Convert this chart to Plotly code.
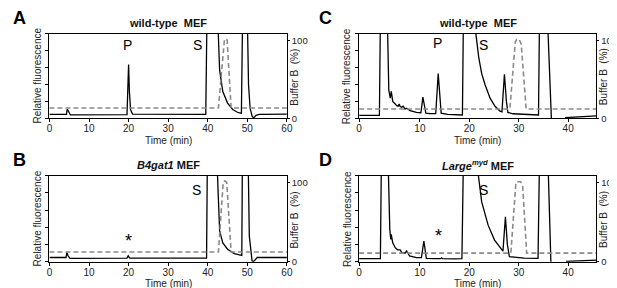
import plotly.graph_objects as go

W, H = 617, 288
FONT = "Liberation Sans, Arial, sans-serif"

# ---------------- data ----------------
# Panel A: wild-type MEF
time_A = [0, 4.3, 4.5, 4.8, 5.3, 19.6, 19.85, 20.0, 20.2, 20.5, 21.0, 39.5, 39.8, 42.5, 43.0,
          43.8, 45.0, 46.3, 47.5, 48.5, 48.8, 50.0, 50.3, 50.7, 51.2, 51.6, 52.2, 53.0, 60]
fluor_A = [0.23, 0.23, 0.55, 0.4, 0.2, 0.22, 1.5, 3.17, 1.6, 0.5, 0.25, 0.23, 6, 6, 2.84,
           1.58, 0.9, 0.52, 0.36, 0.29, 6, 6, 2.0, 0.6, 0.13, 0.03, 0.18, 0.23, 0.25]
bufT_A = [0, 42.7, 44.2, 44.5, 44.9, 45.9, 60]
bufB_A = [13.3, 13.3, 100, 102, 100, 13.3, 13.3]

# Panel B: B4gat1 MEF
time_B = [0, 4.2, 4.4, 4.7, 5.2, 19.6, 19.9, 20.3, 39.7, 39.9, 42.3, 43.0, 43.8, 45.0, 46.7,
          48.3, 48.6, 48.75, 50.2, 50.5, 50.9, 51.2, 51.6, 52.5, 60]
fluor_B = [0.25, 0.25, 0.55, 0.35, 0.2, 0.22, 0.35, 0.22, 0.22, 6, 6, 1.79, 1.1, 0.73, 0.48,
           0.37, 0.37, 6, 6, 1.5, 0.4, 0.05, 0.02, 0.25, 0.25]
bufT_B = [0, 42.7, 43.9, 44.3, 44.8, 45.9, 60]
bufB_B = [12.3, 12.3, 100, 102, 100, 12.3, 12.3]

# Panel C: wild-type MEF
time_C = [-2.3, 1.8, 2.0, 3.4, 3.7, 4.0, 4.2, 4.35, 4.5, 5.0, 5.3, 5.6, 5.8, 6.0, 6.3, 6.6,
          7.0, 7.3, 8.0, 9.3, 10.2, 10.6, 11.0, 11.2, 12.0, 13.2, 13.7, 14.0, 14.3, 15.6,
          18.2, 18.6, 18.8, 20.9, 21.9, 22.5, 23.2, 24.2, 25.2, 26.2, 26.6, 27.1, 27.5, 27.8,
          28.8, 32.2, 33.8, 34.0, 34.2, 35.8, 36.6, 37.0, 39.2, 39.5, 45.7]
fluor_C = [0.17, 0.17, 6, 6, 1.68, 1.19, 1.6, 1.05, 1.0, 0.85, 0.75, 0.72, 0.85, 0.7, 0.65, 0.72,
           0.55, 0.6, 0.45, 0.35, 0.33, 1.25, 0.5, 0.3, 0.28, 0.28, 2.64, 1.2, 0.3, 0.23,
           0.2, 0.2, 6, 6, 3.6, 2.64, 1.97, 1.19, 0.71, 0.42, 0.38, 2.6, 1.0, 0.35,
           0.27, 0.23, 0.2, 0.2, 6, 6, 0.0, -0.5, -0.5, 0.04, 0.15]
bufT_C = [-2.3, 28.2, 29.3, 29.6, 30.1, 30.5, 31.5, 45.7]
bufB_C = [12, 12, 98, 101, 101, 95, 12, 12]

# Panel D: Large(myd) MEF
time_D = [-2.3, 2.0, 2.2, 3.55, 3.9, 4.1, 4.2, 4.35, 4.5, 5.0, 5.5, 6.0, 6.3, 6.7, 7.0, 7.3,
          7.6, 7.9, 9.3, 10.3, 10.8, 11.1, 11.3, 13.0, 14.2, 14.4, 14.6, 17.0, 18.5, 18.8,
          21.4, 22.5, 23.8, 25.1, 26.5, 26.8, 27.3, 27.7, 28.1, 31.1, 33.9, 34.2, 35.9,
          36.5, 37.0, 39.5, 39.7, 45.7]
fluor_D = [0.18, 0.18, 6, 6, 1.88, 1.3, 1.59, 1.15, 1.1, 0.82, 0.7, 0.69, 0.55, 0.53, 0.5, 0.63,
           0.45, 0.34, 0.24, 0.24, 1.2, 0.4, 0.2, 0.18, 0.18, 0.23, 0.18, 0.17, 0.18, 6,
           6, 3.48, 2.13, 1.26, 0.68, 0.62, 2.61, 1.0, 0.3, 0.22, 0.2, 6, 6,
           0.0, -0.5, -0.5, 0.02, 0.1]
bufT_D = [-2.3, 28.4, 29.4, 29.6, 30.4, 30.8, 31.6, 45.7]
bufB_D = [11, 11, 98, 101, 101, 95, 11, 11]

xticks_long = [0, 10, 20, 30, 40, 50, 60]
xticks_short_vals = [-2.3, 10, 20, 30, 40]
xticks_short_text = ["0", "10", "20", "30", "40"]

titles = ["wild-type  MEF", "<i>B4gat1</i> MEF", "wild-type  MEF", "<i>Large<sup>myd</sup></i> MEF"]
letters = ["A", "B", "C", "D"]

# ---------------- layout helpers ----------------
def px_x(p):
    return p / W

def px_y(p):
    return 1 - p / H

# pixel boxes: (left, right, top, bottom)
boxes = [
    (39, 280, 26, 112.3),        # A
    (39, 280, 170.7, 258.3),     # B
    (353.3, 594, 26, 112.3),     # C
    (353.3, 594, 170.7, 258.3),  # D
]

panels = [
    (time_A, fluor_A, bufT_A, bufB_A, [0, 60], xticks_long, [str(v) for v in xticks_long]),
    (time_B, fluor_B, bufT_B, bufB_B, [0, 60], xticks_long, [str(v) for v in xticks_long]),
    (time_C, fluor_C, bufT_C, bufB_C, [-2.3, 45.7], xticks_short_vals, xticks_short_text),
    (time_D, fluor_D, bufT_D, bufB_D, [-2.3, 45.7], xticks_short_vals, xticks_short_text),
]

fig = go.Figure()
layout = dict(
    width=W, height=H, margin=dict(l=0, r=0, t=0, b=0),
    paper_bgcolor="white", plot_bgcolor="white", showlegend=False,
    font=dict(family=FONT, size=10, color="#222"),
)
annotations = []

for i, (t, f, bt, bb, xr, tv, tt) in enumerate(panels):
    n = i + 1
    xa = "x" if n == 1 else f"x{n}"
    yl_n = 2 * i + 1
    yr_n = 2 * i + 2
    yl = "y" if yl_n == 1 else f"y{yl_n}"
    yr = f"y{yr_n}"
    l, r, top, bot = boxes[i]
    dx = [px_x(l), px_x(r)]
    dy = [px_y(bot), px_y(top)]

    fig.add_trace(go.Scatter(x=t, y=f, mode="lines", xaxis=xa, yaxis=yl,
                             line=dict(color="black", width=1.3), hoverinfo="skip"))
    fig.add_trace(go.Scatter(x=bt, y=bb, mode="lines", xaxis=xa, yaxis=yr,
                             line=dict(color="#8a8a8a", width=1.6, dash="5px,3px"),
                             hoverinfo="skip"))

    xkey = "xaxis" if n == 1 else f"xaxis{n}"
    ylkey = "yaxis" if yl_n == 1 else f"yaxis{yl_n}"
    yrkey = f"yaxis{yr_n}"
    layout[xkey] = dict(domain=dx, anchor=yl, range=xr, tickvals=tv, ticktext=tt,
                        showline=True, linecolor="black", linewidth=1, mirror=True,
                        ticks="outside", ticklen=3, tickcolor="black",
                        ticklabelstandoff=-2,
                        showgrid=False, zeroline=False,
                        tickfont=dict(size=10, color="#222"))
    layout[ylkey] = dict(domain=dy, anchor=xa, range=[0, 5], dtick=1,
                         showline=True, linecolor="black", linewidth=1,
                         ticks="outside", ticklen=3, tickcolor="black",
                         showticklabels=False, showgrid=False, zeroline=False)
    layout[yrkey] = dict(domain=dy, anchor=xa, overlaying=yl, side="right",
                         range=[0, 108.5], tickvals=[0, 100],
                         showline=True, linecolor="black", linewidth=1,
                         ticks="outside", ticklen=2, tickcolor="black",
                         showgrid=False, zeroline=False,
                         tickfont=dict(size=9.5, color="#222"))

    cx = (l + r) / 2
    cy = (top + bot) / 2
    # panel title
    annotations.append(dict(text=f"<b>{titles[i]}</b>", x=px_x(cx), y=px_y(top - 11),
                            xref="paper", yref="paper", showarrow=False,
                            font=dict(size=11, color="#111"), xanchor="center", yanchor="middle"))
    # panel letter
    annotations.append(dict(text=f"<b>{letters[i]}</b>", x=px_x(l - 39 if i < 2 else l - 43),
                            y=px_y(top - 16), xref="paper", yref="paper", showarrow=False,
                            font=dict(size=18, color="black"), xanchor="left", yanchor="middle"))
    # axis titles
    annotations.append(dict(text="Relative fluorescence", x=px_x(l - 12), y=px_y(cy),
                            xref="paper", yref="paper", showarrow=False, textangle=-90,
                            font=dict(size=10, color="#222"), xanchor="center", yanchor="middle"))
    annotations.append(dict(text="Buffer B  (%)", x=px_x(r + 8), y=px_y(cy + 1),
                            xref="paper", yref="paper", showarrow=False, textangle=-90,
                            font=dict(size=10, color="#222"), xanchor="center", yanchor="middle"))
    annotations.append(dict(text="Time (min)", x=px_x(cx), y=px_y(bot + 22.5),
                            xref="paper", yref="paper", showarrow=False,
                            font=dict(size=10, color="#222"), xanchor="center", yanchor="middle"))

# peak labels (data coordinates)
peak_labels = [
    ("P", "x", "y", 19.7, 4.3, 14),
    ("S", "x", "y", 37.4, 4.3, 14),
    ("S", "x2", "y3", 37.2, 4.2, 14),
    ("*", "x2", "y3", 19.9, 1.2, 18),
    ("P", "x3", "y5", 13.6, 4.45, 14),
    ("S", "x3", "y5", 22.8, 4.35, 14),
    ("S", "x4", "y7", 22.8, 4.2, 14),
    ("*", "x4", "y7", 13.7, 1.5, 18),
]
for txt, xa, ya, xv, yv, sz in peak_labels:
    annotations.append(dict(text=txt, x=xv, y=yv, xref=xa, yref=ya, showarrow=False,
                            font=dict(size=sz, color="black"), xanchor="center", yanchor="middle"))

layout["annotations"] = annotations
fig.update_layout(**layout)
fig.write_html("out.html")
